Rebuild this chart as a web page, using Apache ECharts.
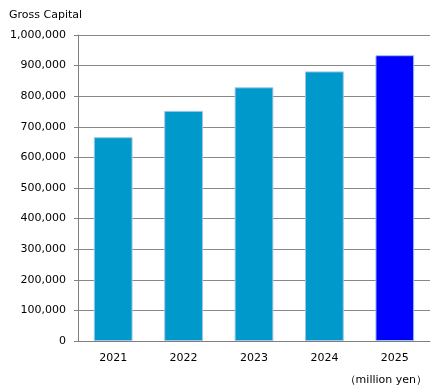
<!DOCTYPE html>
<html><head><meta charset="utf-8">
<script src="https://cdn.jsdelivr.net/npm/echarts@6/dist/echarts.min.js"></script>
<style>html,body{margin:0;padding:0;background:#fff}#c{width:440px;height:387px}</style>
</head><body><div id="c"></div>
<script>
const categories = ['2021','2022','2023','2024','2025'];
const values = [666000, 752000, 829000, 881000, 934000];
const barColors = ['#0099cc','#0099cc','#0099cc','#0099cc','#0000ff'];
const titleText = 'Gross Capital';
const unitText = '（million yen）';

const chart = echarts.init(document.getElementById('c'));
const font = '"DejaVu Sans", Verdana, sans-serif';
chart.setOption({
  animation: false,
  title: [
    {text: titleText, left: 4, top: 5, textStyle: {fontFamily: font, fontSize: 11, fontWeight: 'normal', color: '#000'}},
    {text: unitText, right: 8, top: 370, textStyle: {fontFamily: font, fontSize: 11, fontWeight: 'normal', color: '#000'}}
  ],
  grid: {left: 78, right: 10, top: 35, bottom: 46, containLabel: false},
  xAxis: {
    type: 'category', data: categories,
    axisLine: {lineStyle: {color: '#808080', width: 1}},
    axisTick: {show: false},
    axisLabel: {fontFamily: font, fontSize: 11, color: '#000', margin: 12}
  },
  yAxis: {
    type: 'value', min: 0, max: 1000000, interval: 100000,
    axisLine: {show: true, lineStyle: {color: '#808080', width: 1}},
    axisTick: {show: true, length: 4, lineStyle: {color: '#808080'}},
    splitLine: {lineStyle: {color: '#888888', width: 1}},
    axisLabel: {fontFamily: font, fontSize: 11, color: '#000', margin: 12,
      formatter: v => v.toLocaleString('en-US')}
  },
  series: [{
    type: 'bar', barWidth: '55%',
    data: values.map((v, i) => ({value: v, itemStyle: {color: barColors[i]}})),
    itemStyle: {borderColor: '#9dc3e6', borderWidth: 1}
  }]
});
</script></body></html>
